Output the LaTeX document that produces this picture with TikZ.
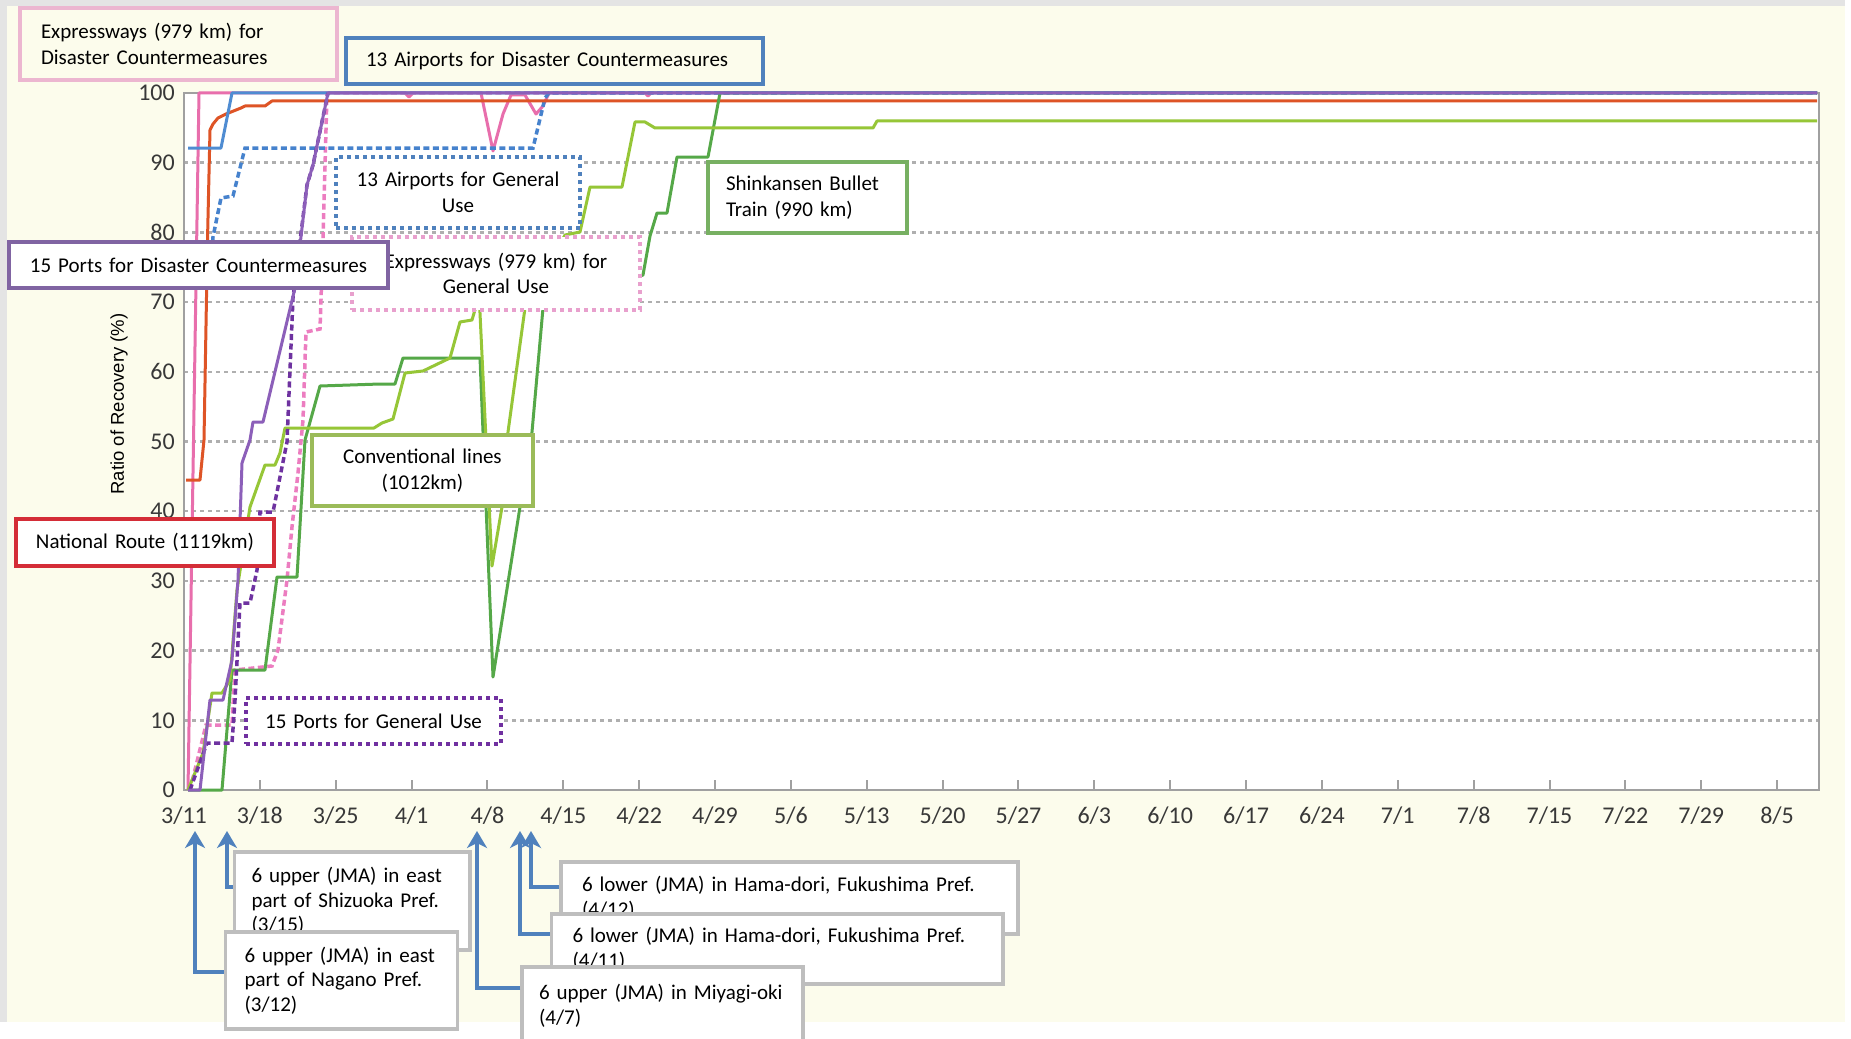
\documentclass[tikz,border=0pt]{standalone}
\usepackage{fontspec}
\setmainfont{Carlito}
\newfontfamily\axisfont{Liberation Sans}
\usetikzlibrary{arrows.meta}
\definecolor{beige}{RGB}{252,252,236}
\definecolor{edgegray}{RGB}{228,228,228}
\definecolor{gridgray}{RGB}{175,175,175}
\definecolor{framegray}{RGB}{160,160,160}
\definecolor{pinkL}{RGB}{232,110,172}
\definecolor{pinkD}{RGB}{236,125,192}
\definecolor{redL}{RGB}{222,84,38}
\definecolor{blueL}{RGB}{79,140,210}
\definecolor{blueD}{RGB}{70,130,205}
\definecolor{purL}{RGB}{140,95,185}
\definecolor{purD}{RGB}{110,50,160}
\definecolor{grnL}{RGB}{85,168,72}
\definecolor{ygL}{RGB}{150,198,55}
\definecolor{pinkBox}{RGB}{236,182,208}
\definecolor{blueBox}{RGB}{79,129,189}
\definecolor{purBox}{RGB}{128,100,162}
\definecolor{pinkDotBox}{RGB}{232,160,205}
\definecolor{grnBox}{RGB}{119,176,98}
\definecolor{ygBox}{RGB}{155,187,89}
\definecolor{redBox}{RGB}{212,45,55}
\definecolor{purDotBox}{RGB}{112,48,160}
\definecolor{grayBox}{RGB}{190,190,190}
\definecolor{arrBlue}{RGB}{79,129,189}
\begin{document}
\begin{tikzpicture}[x=1pt,y=-1pt,
  gridline/.style={draw=gridgray,line width=2.5pt,dash pattern=on 4pt off 4pt},
  framel/.style={draw=framegray,line width=2pt},
  ylab/.style={font=\fontsize{24}{24}\selectfont\color{black!78},inner sep=0pt,anchor=east},
  dlab/.style={font=\fontsize{24}{24}\selectfont\color{black!78},inner sep=0pt},
  dataline/.style={line width=3pt,line join=round},
  dashline/.style={line width=3.5pt,dash pattern=on 6pt off 3.5pt},
  lbox/.style={font=\fontsize{21}{25.5}\selectfont,inner ysep=0pt,line width=3.5pt,fill=white},
  ebox/.style={font=\fontsize{21}{24.5}\selectfont,inner ysep=0pt,line width=3.5pt,draw=grayBox,fill=white,align=left},
  dotted box/.style={dash pattern=on 4pt off 4pt,line width=4pt},
  arr/.style={draw=arrBlue,line width=4pt,-{Stealth[length=17pt,width=20pt,inset=5pt]}}
]
\useasboundingbox (0,0) rectangle (1851,1038);
% background
\fill[white] (0,0) rectangle (1851,1038);
\fill[edgegray] (0,0) rectangle (1845,1022);
\fill[beige] (7,6) rectangle (1845,1022);
\fill[white] (184,93) rectangle (1819,790);
% grid
\foreach \k in {1,...,9} \draw[gridline] (184,{790-69.7*\k}) -- (1819,{790-69.7*\k});
\draw[framel] (184,93) rectangle (1819,790);
\foreach \k in {1,...,21} \draw[framel] ({184+75.86*\k},790) -- ({184+75.86*\k},780);
% y labels
\foreach \v [count=\k from 0] in {0,10,20,30,40,50,60,70,80,90,100}
  \node[ylab] (yl\k) at (175,{790-69.7*\k}) {\v};
% date labels
\foreach \t [count=\k from 0] in {3/11,3/18,3/25,4/1,4/8,4/15,4/22,4/29,5/6,5/13,5/20,5/27,6/3,6/10,6/17,6/24,7/1,7/8,7/15,7/22,7/29,8/5}
  \node[dlab] (dl\k) at ({184+75.86*\k},816) {\t};
% axis title
\node[font=\axisfont\fontsize{18.5}{18.5}\selectfont,rotate=90,inner sep=0pt] (ytitle) at (119,404) {Ratio of Recovery (\%)};

% ---- data lines ----
% Expressways (disaster) pink solid
\draw[dataline,pinkL] (188,790) -- (199,93) -- (405,93) -- (409,97) -- (413,93) -- (481,93) -- (493,151) -- (503,114) -- (511,95) -- (525,95) -- (536,114) -- (543,106) -- (549,93) -- (645,93) -- (648,96) -- (651,93) -- (1817,93);
% Expressways (general) pink dashed
\draw[dashline,pinkD] (190,790) -- (206,725) -- (232,725) -- (235,670) -- (272,666) -- (278,650) -- (287,580) -- (292,527) -- (298,473) -- (303,420) -- (306,332) -- (320,329) -- (323,240) -- (327,93) -- (1817,93);
% Airports (general) blue dashed
\draw[dashline,blueD] (210,280) -- (213,237) -- (221,198) -- (233,196) -- (245,148) -- (533,148) -- (545,98) -- (549,93) -- (1817,93);
% National route red
\draw[dataline,redL] (186,480) -- (200,480) -- (204,440) -- (207.5,240) -- (210,130) -- (213,124) -- (218,118) -- (226,114) -- (241,108) -- (245,106) -- (265,106) -- (272,101) -- (1817,101);
% Shinkansen green
\draw[dataline,grnL] (188,790) -- (222,790) -- (232,670) -- (265,670) -- (277,577) -- (297,577) -- (305,440) -- (320,386) -- (380,384) -- (395,384) -- (403,358) -- (480,358) -- (493,677) -- (520,507) -- (532,432) -- (543,308) -- (600,290) -- (643,275) -- (650,236) -- (657,213) -- (667,213) -- (677,157) -- (708,157) -- (720,93) -- (1817,93);
% Conventional lines yellow-green
\draw[dataline,ygL] (188,790) -- (203,753) -- (212,693) -- (222,693) -- (230,680) -- (237,590) -- (250,507) -- (265,465) -- (275,465) -- (280,453) -- (285,428) -- (374,428) -- (382,423) -- (393,419) -- (405,373) -- (423,371) -- (450,358) -- (460,322) -- (472,320) -- (477,303) -- (479,292) -- (492,566) -- (502,507) -- (508,432) -- (525,308) -- (565,235) -- (580,232) -- (590,187) -- (622,187) -- (635,122) -- (645,122) -- (655,128) -- (873,128) -- (877,121) -- (1817,121);
% Airports (disaster) blue solid
\draw[dataline,blueL] (188,148) -- (221,148) -- (232,93) -- (1817,93);
% Ports (general) purple dashed
\draw[dashline,purD] (190,790) -- (207,743) -- (232,743) -- (235,700) -- (240,603) -- (250,603) -- (257,570) -- (260,512) -- (273,512) -- (287,442) -- (293,298) -- (307,185) -- (313,165) -- (328,93);
% Ports (disaster) purple solid
\draw[dataline,purL] (188,790) -- (200,790) -- (210,700) -- (223,700) -- (232,660) -- (238,580) -- (242,463) -- (250,440) -- (253,422) -- (263,422) -- (295,288) -- (307,185) -- (313,165) -- (328,93) -- (1817,93);

% ---- label boxes ----
\node[lbox,draw=pinkBox,fill=beige,minimum width=317pt,minimum height=72pt,text width=275pt,inner xsep=21pt,align=left] (expD) at (178.5,44) {Expressways (979 km) for\\Disaster Countermeasures};
\node[lbox,draw=blueBox,fill=beige,minimum width=417pt,minimum height=46pt,text width=377pt,inner xsep=20pt,align=left] (airD) at (554.5,61) {13 Airports for Disaster Countermeasures};
\node[lbox,draw=blueBox,dotted box,minimum width=244pt,minimum height=71pt,text width=220pt,inner xsep=12pt,align=center] (airG) at (458,192.5) {13 Airports for General\\Use};
\node[lbox,draw=pinkDotBox,dotted box,line width=3.5pt,minimum width=288pt,minimum height=73pt,text width=250pt,inner xsep=19pt,align=center] (expG) at (496,273.5) {Expressways (979 km) for\\General Use};
\node[lbox,draw=purBox,line width=4pt,minimum width=379pt,minimum height=46pt,text width=339pt,inner xsep=20pt,align=center] (portD) at (198.5,265) {15 Ports for Disaster Countermeasures};
\node[lbox,draw=grnBox,minimum width=199pt,minimum height=71pt,text width=163pt,inner xsep=18pt,align=left] (shink) at (807.5,197.5) {Shinkansen Bullet\\Train (990 km)};
\node[lbox,draw=ygBox,line width=4pt,minimum width=221pt,minimum height=71pt,text width=185pt,inner xsep=18pt,align=center] (conv) at (422.5,470.5) {Conventional lines\\(1012km)};
\node[lbox,draw=redBox,line width=4.5pt,minimum width=258pt,minimum height=47pt,text width=222pt,inner xsep=18pt,align=center] (natl) at (145,542.5) {National Route (1119km)};
\node[lbox,draw=purDotBox,dotted box,minimum width=255pt,minimum height=46pt,text width=225pt,inner xsep=15pt,align=center] (portG) at (373.5,721) {15 Ports for General Use};

% ---- earthquake annotations ----
\coordinate (tA) at (227,831);
\coordinate (tB) at (195,831);
\coordinate (tC) at (531,831);
\coordinate (tD) at (520,831);
\coordinate (tE) at (477,831);
\node[ebox,minimum width=235.5pt,minimum height=98pt,text width=201.5pt,inner xsep=17pt] (eqA) at (352.25,901) {6 upper (JMA) in east\\part of Shizuoka Pref.\\(3/15)};
\draw[arr] ([yshift=14pt]eqA.west) -| (tA);
\node[ebox,minimum width=232pt,minimum height=97pt,text width=194pt,inner xsep=19pt] (eqB) at (341.5,980.5) {6 upper (JMA) in east\\part of Nagano Pref.\\(3/12)};
\draw[arr] ([yshift=8.5pt]eqB.west) -| (tB);
\node[ebox,minimum width=457pt,minimum height=72pt,text width=415pt,inner xsep=21pt] (eqC) at (789.5,898) {6 lower (JMA) in Hama-dori, Fukushima Pref.\\(4/12)};
\draw[arr] ([yshift=11pt]eqC.west) -| (tC);
\node[ebox,minimum width=451.5pt,minimum height=70pt,text width=409.5pt,inner xsep=21pt] (eqD) at (777.25,949) {6 lower (JMA) in Hama-dori, Fukushima Pref.\\(4/11)};
\draw[arr] ([yshift=15pt]eqD.west) -| (tD);
\node[ebox,minimum width=281pt,minimum height=78pt,text width=247pt,inner xsep=17pt] (eqE) at (662.5,1006) {6 upper (JMA) in Miyagi-oki\\(4/7)};
\draw[arr] ([yshift=18pt]eqE.west) -| (tE);
\end{tikzpicture}
\end{document}
